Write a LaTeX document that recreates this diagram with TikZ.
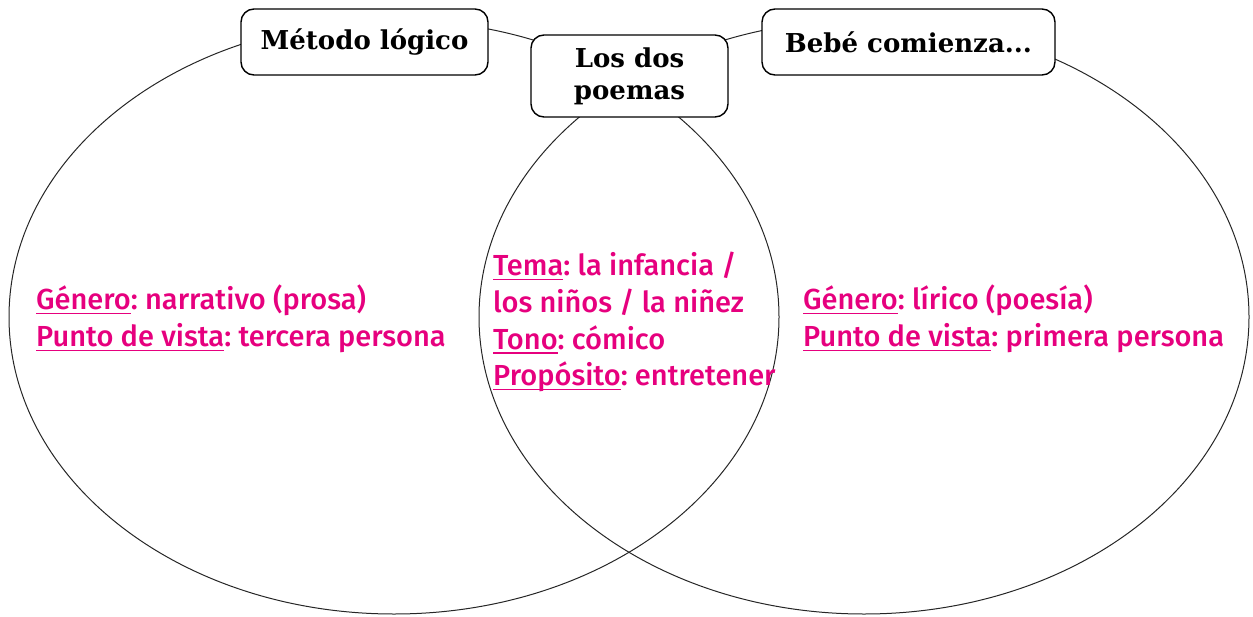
\documentclass[tikz,border=0pt]{standalone}
\usepackage{fontspec}
\setmainfont{Fira Sans}[UprightFont={* Medium}]
\newfontfamily\titlefont{DejaVu Serif}
\usepackage{tikz}
\usetikzlibrary{positioning}
\definecolor{vennpink}{RGB}{230,0,126}
\newlength{\clavelen}
\newcommand{\clave}[1]{\settowidth{\clavelen}{#1}\rlap{\rule[-4.5pt]{\clavelen}{1.6pt}}#1}
\frenchspacing

\begin{document}
\begin{tikzpicture}[x=1pt, y=-1pt,
    ring/.style  = {draw=black!85, line width=1pt},% the two overlapping ovals
   title/.style  = {rectangle, draw, line width=1.4pt, rounded corners=13pt,
                    fill=white, align=center, inner sep=0pt,
                    font=\titlefont\bfseries\fontsize{26}{32}\selectfont},
   facts/.style  = {anchor=north west, align=left, inner sep=0pt,
                    text=vennpink, font=\fontsize{29}{36.7}\selectfont},
                        ]
\useasboundingbox (0,0) rectangle (1253,616);
% rings first, boxes cover them
\draw[ring] (394,317) ellipse [x radius=385pt, y radius=297pt];
\draw[ring] (864,317) ellipse [x radius=385pt, y radius=297pt];

\node[title, minimum width=247pt, minimum height=66pt] (metodo) at (364.5,42) {Método lógico};
\node[title, minimum width=197pt, minimum height=82pt] (poemas) at (629.5,76) {Los dos\\poemas};
\node[title, minimum width=293pt, minimum height=66pt] (bebe)   at (908.5,42) {Bebé comienza...};

\node[facts] (izq) at (36,285)
    {\clave{Género}: narrativo (prosa)\\\clave{Punto de vista}: tercera persona};
\node[facts] (centro) at (493,252)
    {\clave{Tema}: la infancia /\\los niños / la niñez\\\clave{Tono}: cómico\\\clave{Propósito}: entretener};
\node[facts] (der) at (803,285)
    {\clave{Género}: lírico (poesía)\\\clave{Punto de vista}: primera persona};
\end{tikzpicture}
\end{document}
